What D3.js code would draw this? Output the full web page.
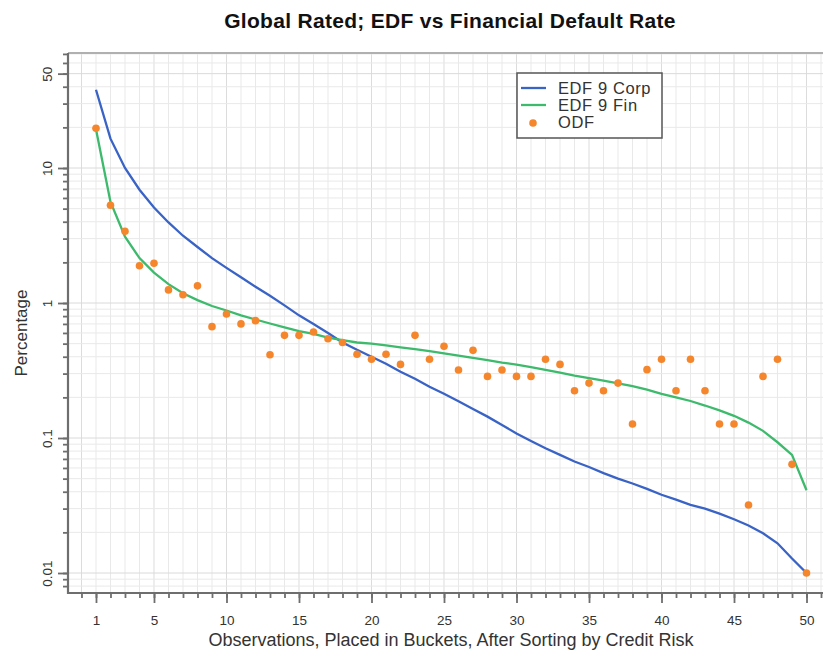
<!DOCTYPE html>
<html>
<head>
<meta charset="utf-8">
<script src="https://cdn.jsdelivr.net/npm/d3@7/dist/d3.min.js"></script>
<style>
body { margin: 0; background: #fff; }
text { font-family: "Liberation Sans", Arial, sans-serif; }
</style>
</head>
<body>
<div id="chart"></div>
<script>
// data (percentages per bucket)
var buckets = [1,2,3,4,5,6,7,8,9,10,11,12,13,14,15,16,17,18,19,20,21,22,23,24,25,
               26,27,28,29,30,31,32,33,34,35,36,37,38,39,40,41,42,43,44,45,46,47,48,49,50]

var edfCorp = [38, 16.5, 10, 6.9, 5.1, 3.95, 3.15, 2.6, 2.15, 1.82,
               1.55, 1.32, 1.13, 0.96, 0.81, 0.70, 0.60, 0.51, 0.45, 0.40,
               0.355, 0.31, 0.275, 0.24, 0.213, 0.187, 0.164, 0.144, 0.125, 0.108,
               0.095, 0.084, 0.075, 0.067, 0.061, 0.055, 0.050, 0.046, 0.042, 0.038,
               0.035, 0.032, 0.030, 0.0275, 0.025, 0.0225, 0.0197, 0.0166, 0.0128, 0.0100]

var edfFin = [19.4, 5.6, 3.1, 2.15, 1.68, 1.38, 1.18, 1.05, 0.95, 0.88,
              0.81, 0.755, 0.705, 0.66, 0.62, 0.59, 0.555, 0.53, 0.51, 0.50,
              0.485, 0.47, 0.455, 0.44, 0.424, 0.408, 0.392, 0.377, 0.362, 0.35,
              0.335, 0.32, 0.305, 0.29, 0.278, 0.266, 0.254, 0.242, 0.228, 0.212,
              0.2, 0.188, 0.174, 0.16, 0.146, 0.13, 0.113, 0.093, 0.075, 0.041]

var odf = [19.7, 5.3, 3.4, 1.89, 1.97, 1.25, 1.15, 1.34, 0.668, 0.83,
           0.70, 0.74, 0.414, 0.576, 0.576, 0.61, 0.544, 0.51, 0.417, 0.383,
           0.417, 0.351, 0.576, 0.383, 0.478, 0.319, 0.446, 0.286, 0.319, 0.286,
           0.286, 0.383, 0.351, 0.224, 0.255, 0.224, 0.255, 0.127, 0.321, 0.383,
           0.224, 0.383, 0.224, 0.127, 0.127, 0.0319, 0.286, 0.383, 0.0638, 0.01]

var xTicks = [1, 5, 10, 15, 20, 25, 30, 35, 40, 45, 50]
var yTicks = [0.01, 0.1, 1, 10, 50]
var yTickLabels = ["0.01", "0.1", "1", "10", "50"]

var seriesNames = ["EDF 9 Corp", "EDF 9 Fin", "ODF"]
var seriesColors = ["#3a63c6", "#3dba6c", "#f5862c"]

// set the dimensions and margins of the graph
var margin = {top: 53, right: -7, bottom: 58, left: 68},
    width = 823 - margin.left - margin.right,
    height = 651 - margin.top - margin.bottom

var svg = d3.select("#chart")
  .append("svg")
    .attr("width", 823)
    .attr("height", 651)

var g = svg.append("g")
    .attr("transform", "translate(" + margin.left + "," + margin.top + ")")

// scales
var x = d3.scaleLinear()
  .domain([-0.93, 51.62])
  .range([0, width])

var y = d3.scaleLog()
  .domain([Math.pow(10, -2.1481), Math.pow(10, 1.8519)])
  .range([height, 0])

// minor log values for grid and ticks
var logVals = []
for (var k = -3; k <= 1; k++) {
  for (var m = 1; m <= 9; m++) {
    var v = m * Math.pow(10, k)
    if (v >= y.domain()[0] && v <= y.domain()[1]) logVals.push(v)
  }
}
var xMinor = []
for (var i = 0; i <= 51; i++) xMinor.push(i)

// grid
g.append("g").selectAll("line")
  .data(xMinor)
  .enter().append("line")
    .attr("x1", function(d) { return x(d) })
    .attr("x2", function(d) { return x(d) })
    .attr("y1", 0).attr("y2", height)
    .style("stroke", function(d) { return d % 5 == 0 ? "#dcdcdc" : "#e9e9e9" })
    .style("stroke-width", 1)

g.append("g").selectAll("line")
  .data(logVals)
  .enter().append("line")
    .attr("x1", 0).attr("x2", width)
    .attr("y1", function(d) { return y(d) })
    .attr("y2", function(d) { return y(d) })
    .style("stroke", function(d) { return yTicks.indexOf(d) >= 0 ? "#dadada" : "#e9e9e9" })
    .style("stroke-width", 1)

// Y axis: minor then major ticks
g.append("g")
  .attr("class", "axis")
  .call(d3.axisLeft(y).tickValues(logVals).tickSize(5).tickFormat(""))

var yAxis = g.append("g")
  .attr("class", "axis")
  .call(d3.axisLeft(y).tickValues(yTicks).tickSize(10)
        .tickFormat(function(d, i) { return yTickLabels[i] }))

yAxis.selectAll("text")
  .attr("x", 0)
  .attr("dy", 0)
  .attr("transform", "translate(-16,0) rotate(-90)")
  .style("text-anchor", "middle")

// X axis
g.append("g")
  .attr("class", "axis")
  .attr("transform", "translate(0," + height + ")")
  .call(d3.axisBottom(x).tickValues(xMinor).tickSize(5).tickFormat(""))

g.append("g")
  .attr("class", "axis")
  .attr("transform", "translate(0," + height + ")")
  .call(d3.axisBottom(x).tickValues(xTicks).tickSize(10).tickPadding(12))

g.selectAll(".axis .domain").remove()
g.selectAll(".axis line").style("stroke", "#6e6e6e").style("stroke-width", 1.8)
g.selectAll(".axis text")
  .style("font-size", "13.5px")
  .style("fill", "#333")
  .style("font-family", "'Liberation Sans', Arial, sans-serif")

// frame: top border light, left/bottom axis darker
g.append("line")
  .attr("x1", 0).attr("x2", width).attr("y1", 0).attr("y2", 0)
  .style("stroke", "#b0b0b0").style("stroke-width", 2)

g.append("path")
  .attr("d", "M0,0V" + height + "H" + width)
  .style("fill", "none")
  .style("stroke", "#6e6e6e")
  .style("stroke-width", 2.2)

// lines
var line = d3.line()
  .x(function(d, i) { return x(buckets[i]) })
  .y(function(d) { return y(d) })

g.append("path")
  .datum(edfCorp)
  .attr("d", line)
  .style("fill", "none")
  .style("stroke", seriesColors[0])
  .style("stroke-width", 2.3)

g.append("path")
  .datum(edfFin)
  .attr("d", line)
  .style("fill", "none")
  .style("stroke", seriesColors[1])
  .style("stroke-width", 2.3)

// ODF dots
g.append("g")
  .selectAll("circle")
  .data(odf)
  .enter()
  .append("circle")
    .attr("cx", function(d, i) { return x(buckets[i]) })
    .attr("cy", function(d) { return y(d) })
    .attr("r", 3.8)
    .style("fill", seriesColors[2])

// legend
var legend = svg.append("g")
  .attr("transform", "translate(517,73)")

legend.append("rect")
  .attr("width", 145)
  .attr("height", 65)
  .style("fill", "white")
  .style("stroke", "#555")
  .style("stroke-width", 1.5)

seriesNames.forEach(function(name, i) {
  var cy = 15 + i * 17
  if (i < 2) {
    legend.append("line")
      .attr("x1", 4).attr("x2", 29)
      .attr("y1", cy).attr("y2", cy)
      .style("stroke", seriesColors[i])
      .style("stroke-width", 2.3)
  } else {
    legend.append("circle")
      .attr("cx", 16).attr("cy", cy + 1)
      .attr("r", 3.8)
      .style("fill", seriesColors[i])
  }
  legend.append("text")
    .attr("x", 41)
    .attr("y", cy + 6)
    .style("font-size", "16.5px")
    .style("letter-spacing", "0.6px")
    .style("fill", "#333")
    .text(name)
})

// title and axis labels
svg.append("text")
  .attr("x", 450)
  .attr("y", 28)
  .attr("text-anchor", "middle")
  .style("font-size", "21px")
  .style("font-weight", "bold")
  .style("letter-spacing", "0.3px")
  .style("fill", "#111")
  .text("Global Rated; EDF vs Financial Default Rate")

svg.append("text")
  .attr("x", 451)
  .attr("y", 646)
  .attr("text-anchor", "middle")
  .style("font-size", "18px")
  .style("fill", "#333")
  .text("Observations, Placed in Buckets, After Sorting by Credit Risk")

svg.append("text")
  .attr("transform", "translate(27,333) rotate(-90)")
  .attr("text-anchor", "middle")
  .style("font-size", "17px")
  .style("fill", "#333")
  .text("Percentage")
</script>
</body>
</html>
